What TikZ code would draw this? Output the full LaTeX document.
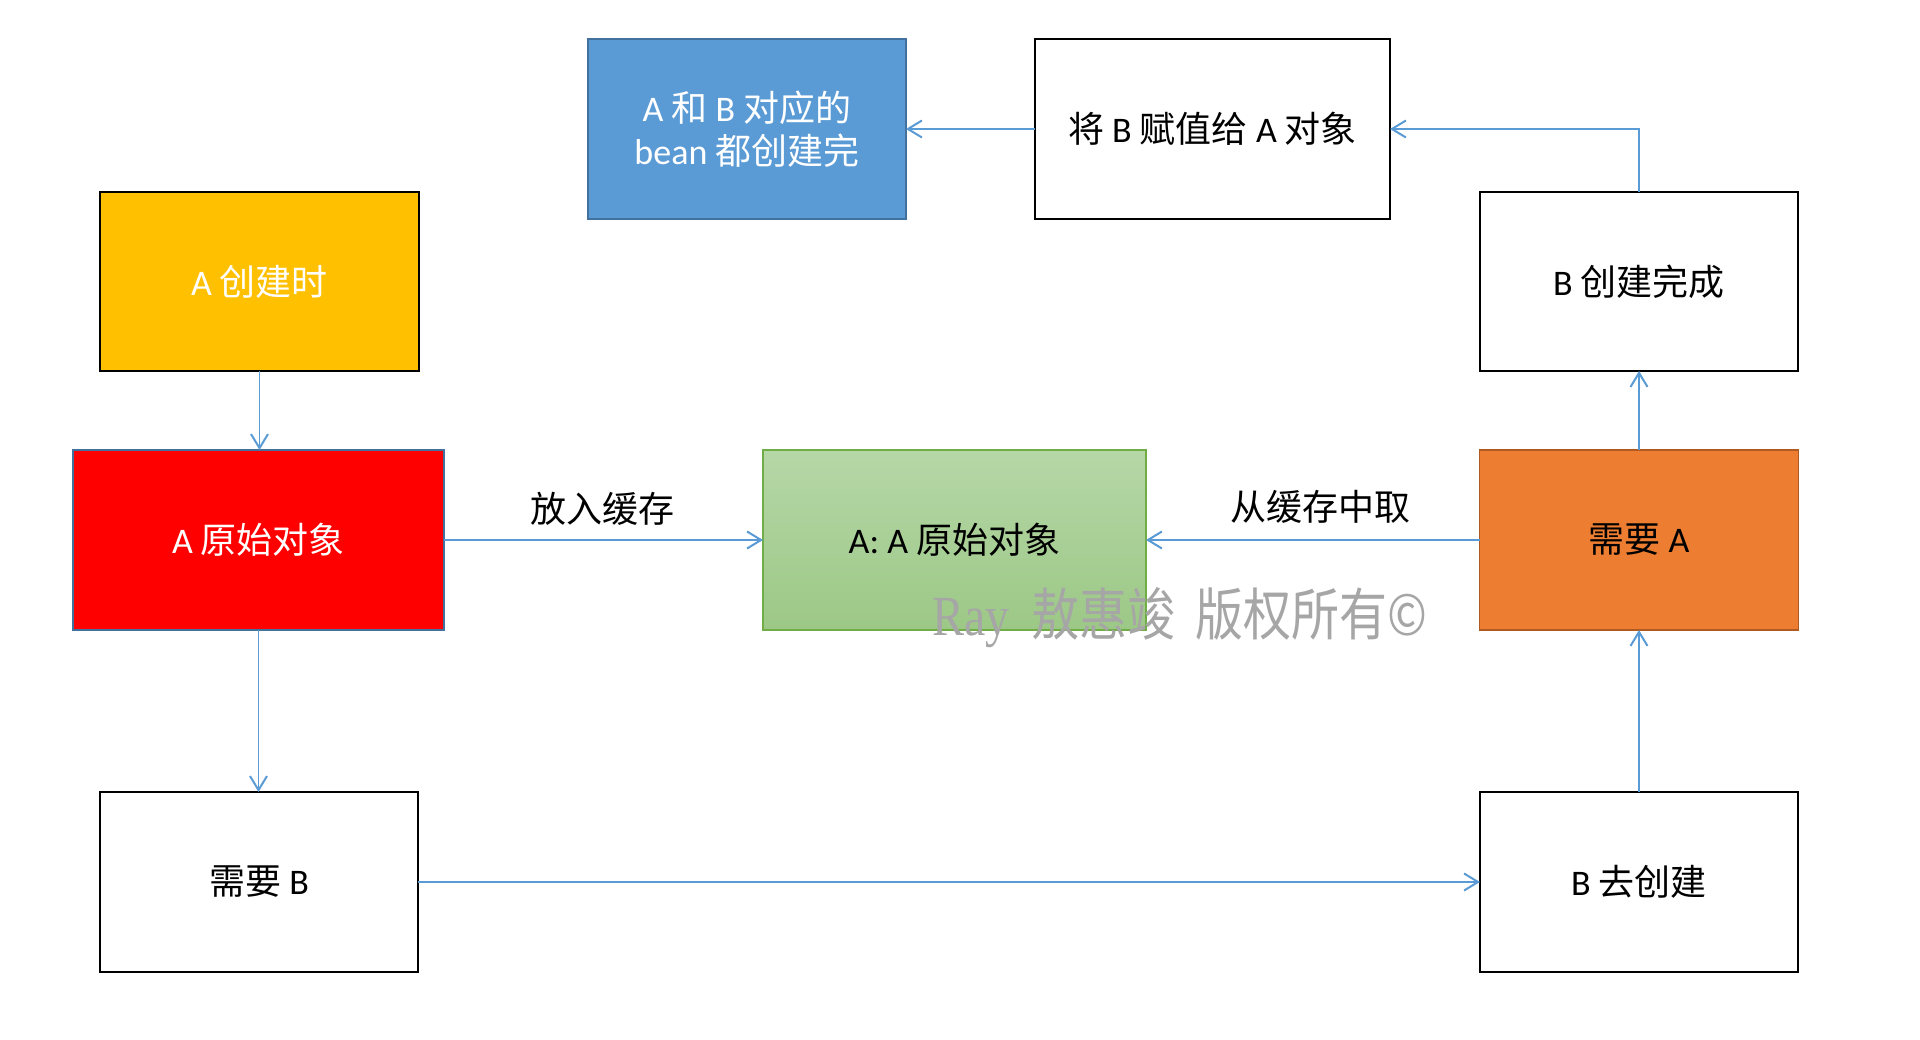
\documentclass[tikz,border=0pt]{standalone}
\usepackage{fontspec}
\setmainfont{Carlito}
\newfontfamily\cjk{Noto Sans CJK SC}
\newfontfamily\wmserif{Liberation Serif}
\usetikzlibrary{arrows.meta}
\definecolor{arrowblue}{HTML}{5B9BD5}
\definecolor{boxyellow}{HTML}{FFC000}
\definecolor{boxred}{HTML}{FF0000}
\definecolor{darkblueline}{HTML}{41719C}
\definecolor{boxblue}{HTML}{5B9BD5}
\definecolor{boxorange}{HTML}{ED7D31}
\definecolor{orangeline}{HTML}{AE5A21}
\definecolor{greentop}{RGB}{182,215,167}
\definecolor{greenbot}{RGB}{156,200,134}
\definecolor{greenline}{HTML}{70AD47}
\definecolor{wmgray}{HTML}{A6A6A6}
\newcommand\zh[1]{{\cjk #1}}
\newcommand\boxfont{\fontsize{36pt}{43pt}\selectfont}
\begin{document}
\begin{tikzpicture}[x=1pt,y=-1pt,
  box/.style={draw=black,line width=1.6pt,inner sep=0pt,outer sep=0pt,align=center,font=\boxfont},
  conn/.style={draw=arrowblue,line width=2pt,-{Straight Barb[length=14pt,width=17pt,line width=2pt]}},
  vconn/.style={conn,line width=1.6pt},
  lbl/.style={font=\boxfont,inner sep=0pt}
]
\useasboundingbox[fill=white] (0,0) rectangle (1920,1040);

\node[box,fill=boxyellow,text=white,minimum width=319pt,minimum height=179pt] (acreate) at (259.5,281.5) {A \zh{创建时}};
\node[box,fill=boxred,draw=darkblueline,text=white,minimum width=371pt,minimum height=180pt] (araw) at (258.5,540) {A \zh{原始对象}};
\node[box,minimum width=318pt,minimum height=180pt] (needb) at (259,882) {\zh{需要} B};
\node[box,fill=boxblue,draw=darkblueline,text=white,minimum width=318pt,minimum height=180pt] (done) at (747,129) {A \zh{和} B \zh{对应的}\\bean \zh{都创建完}};
\node[box,minimum width=355pt,minimum height=180pt] (assign) at (1212.5,129) {\zh{将} B \zh{赋值给} A \zh{对象}};
\node[box,minimum width=318pt,minimum height=179pt] (bdone) at (1639,281.5) {B \zh{创建完成}};
\node[box,top color=greentop,bottom color=greenbot,draw=greenline,minimum width=383pt,minimum height=180pt] (cache) at (954.5,540) {A: A \zh{原始对象}};
\node[box,fill=boxorange,draw=orangeline,minimum width=319pt,minimum height=180pt] (needa) at (1639,540) {\zh{需要} A};
\node[box,minimum width=318pt,minimum height=180pt] (bcreate) at (1639,882) {B \zh{去创建}};

\draw[vconn] (acreate.south) -- (acreate.south |- araw.north);
\draw[conn] (araw.east) -- node[lbl,midway,yshift=31pt,xshift=-1pt] (put) {\zh{放入缓存}} (cache.west);
\draw[conn] (needa.west) -- node[lbl,midway,yshift=33pt,xshift=8pt] (take) {\zh{从缓存中取}} (cache.east);
\draw[vconn] (araw.south) -- (araw.south |- needb.north);
\draw[conn] (needb.east) -- (bcreate.west);
\draw[vconn] (bcreate.north) -- (needa.south);
\draw[vconn] (needa.north) -- (bdone.south);
\draw[vconn] (bdone.north) |- (assign.east);
\draw[conn] (assign.west) -- (done.east);

\node[anchor=base west,inner sep=0pt,text=wmgray,font=\fontsize{48pt}{54pt}\selectfont] (wm) at (932,635) {\scalebox{1}[1.18]{{\wmserif Ray}\hspace*{22pt}\zh{敖惠竣}\hspace*{20pt}\zh{版权所有©}}};
\end{tikzpicture}
\end{document}
